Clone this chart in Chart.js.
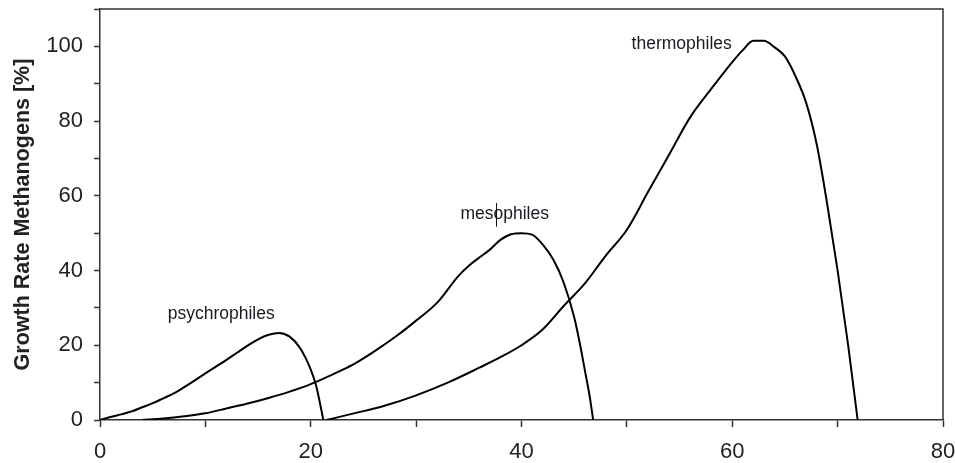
<!DOCTYPE html>
<html>
<head>
<meta charset="utf-8">
<script src="https://cdn.jsdelivr.net/npm/chart.js@4/dist/chart.umd.min.js"></script>
<style>
html,body{margin:0;padding:0;background:#fff;}
#wrap{width:955px;height:463px;}
</style>
</head>
<body>
<div id="wrap"><canvas id="c" width="955" height="463"></canvas></div>
<script>
// ---- data ----
const psychroX = [0,1,2,3,4,5,6,7,8,9,10,11,12,13,14,15,16,17,18,19,20,20.5,21.2];
const psychroY = [0,0.8,1.5,2.3,3.4,4.5,5.8,7.1,8.8,10.6,12.5,14.3,16.1,18.0,19.9,21.6,22.8,23.3,22.3,19.2,13.5,9.3,0];

const mesoX = [4,6,8,10,12,14,16,18,20,22,24,26,28,30,32,34,35,36,37,38,39,40,41,42,43,44,45,45.5,46,46.5,46.8];
const mesoY = [0,0.4,1.0,1.8,3.1,4.4,5.9,7.6,9.6,12.1,14.8,18.3,22.2,26.6,31.4,38.5,41.3,43.5,45.6,48.2,49.7,50,49.6,47,43,36.8,27.5,21,13.5,5.8,0];

const thermoX = [21.5,24,27,30,33,36,38,40,42,44,46,48,50,52,54,56,58,60,61,62,63,64,65,66,67,68,69,70,71,71.9];
const thermoY = [0,1.7,3.8,6.6,10,14,16.8,20,24.2,30.5,36.5,44,50.9,61,71,81,88.6,95.8,99,101.5,101.5,99.8,97.3,92,85,74,58,40,20,0];

const xTickLabels = [0,20,40,60,80];
const yTickLabels = [0,20,40,60,80,100];

const curveLabels = ['psychrophiles','mesophiles','thermophiles'];
const labelAnchorX = [11.5,38.4,55.2];
const labelAnchorY = [28.4,55.2,100.7];

function pts(xs, ys){ return xs.map((x,i)=>({x:x, y:ys[i]})); }

const FONT = "'Liberation Sans', Arial, sans-serif";

const boxPlugin = {
  id:'box',
  afterDraw(chart){
    const {ctx, chartArea:a, scales} = chart;
    ctx.save();
    ctx.strokeStyle = '#333';
    ctx.lineWidth = 1.5;
    ctx.beginPath();
    ctx.moveTo(a.left, a.top);
    ctx.lineTo(a.right, a.top);
    ctx.lineTo(a.right, a.bottom);
    ctx.stroke();
    // curve labels
    ctx.fillStyle = '#1a1a22';
    ctx.font = "17.5px " + FONT;
    ctx.textAlign = 'center';
    ctx.textBaseline = 'middle';
    curveLabels.forEach((t,i)=>{
      ctx.fillText(t, scales.x.getPixelForValue(labelAnchorX[i]), scales.y.getPixelForValue(labelAnchorY[i]));
    });
    // text caret seen in the reference
    ctx.strokeStyle = '#111';
    ctx.lineWidth = 1;
    const cx = Math.round(scales.x.getPixelForValue(37.6)) + 0.5;
    ctx.beginPath();
    ctx.moveTo(cx, scales.y.getPixelForValue(58.1));
    ctx.lineTo(cx, scales.y.getPixelForValue(51.7));
    ctx.stroke();
    ctx.restore();
  }
};

const lineDs = (label, data) => ({
  label, data,
  borderColor:'#000', borderWidth:2, pointRadius:0, fill:false,
  cubicInterpolationMode:'monotone'
});

new Chart(document.getElementById('c'), {
  type:'line',
  data:{
    datasets:[
      lineDs('psychrophiles', pts(psychroX, psychroY)),
      lineDs('mesophiles', pts(mesoX, mesoY)),
      lineDs('thermophiles', pts(thermoX, thermoY))
    ]
  },
  options:{
    responsive:false,
    animation:false,
    layout:{padding:{left:0,right:12,top:9,bottom:0}},
    plugins:{legend:{display:false}, tooltip:{enabled:false}},
    scales:{
      x:{
        type:'linear', min:0, max:80,
        afterFit(s){ s.height = 43; s.paddingLeft = 0; s.paddingRight = 0; },
        border:{display:true, color:'#333', width:1.5},
        grid:{drawOnChartArea:false, drawTicks:true, tickLength:7, tickColor:'#333', tickWidth:1.5},
        ticks:{
          stepSize:10, autoSkip:false, maxRotation:0, padding:12,
          color:'#222', font:{family:FONT, size:22},
          callback:(v)=> xTickLabels.includes(v) ? String(v) : ''
        }
      },
      y:{
        type:'linear', min:0, max:110,
        afterFit(s){ s.width = 100; s.paddingTop = 0; s.paddingBottom = 0; },
        border:{display:true, color:'#333', width:1.5},
        grid:{drawOnChartArea:false, drawTicks:true, tickLength:6, tickColor:'#333', tickWidth:1.5},
        title:{display:true, text:'Growth Rate Methanogens [%]', color:'#222',
               font:{family:FONT, size:21.5, weight:'bold'}, padding:{top:10,bottom:0}},
        ticks:{
          stepSize:10, autoSkip:false, padding:11,
          color:'#222', font:{family:FONT, size:22},
          callback:(v)=> yTickLabels.includes(v) ? String(v) : ''
        }
      }
    }
  },
  plugins:[boxPlugin]
});
</script>
</body>
</html>
